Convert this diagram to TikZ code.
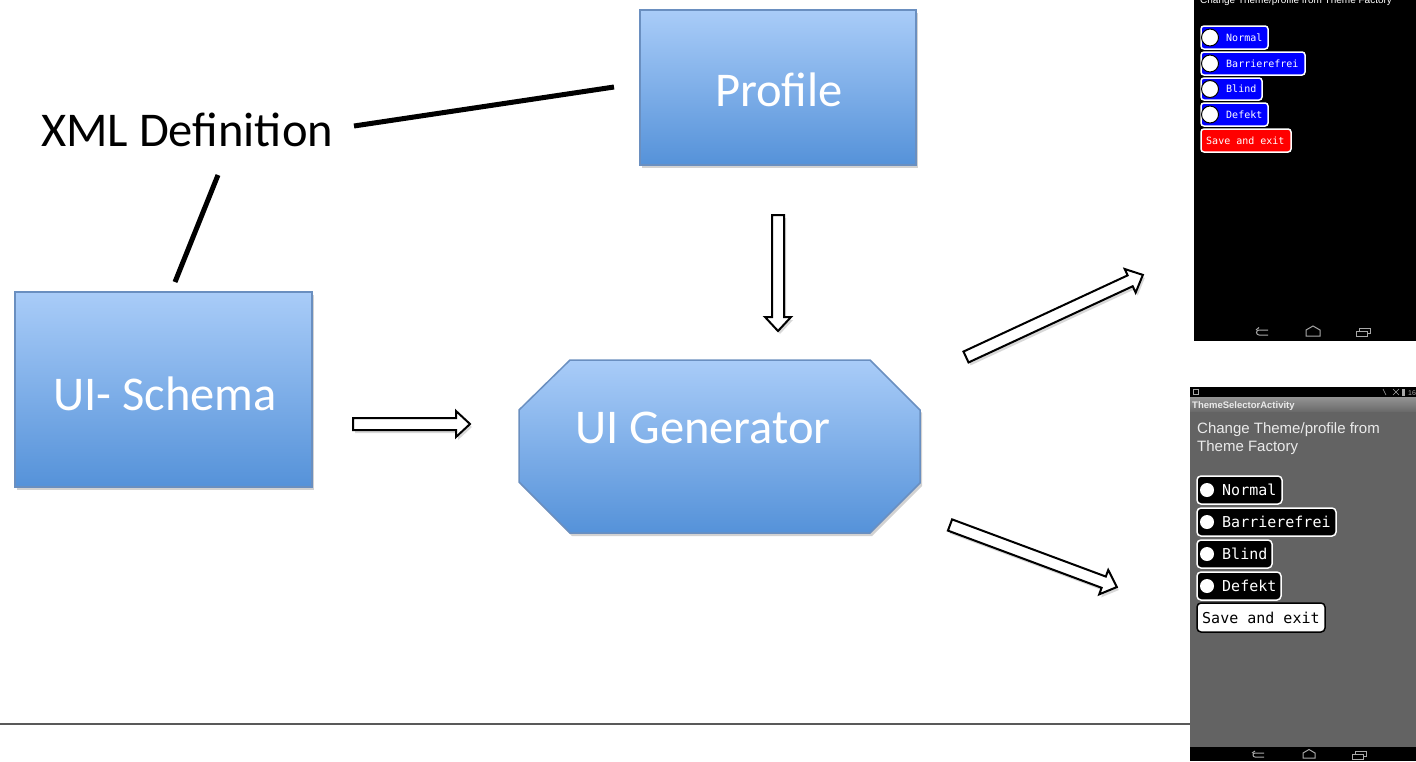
\documentclass[tikz,border=0pt]{standalone}
\usepackage{fontspec}
\setmainfont{Carlito}
\newfontfamily\andr{Liberation Sans}
\newfontfamily\monof{DejaVu Sans Mono}
\usetikzlibrary{shadows,calc}
\definecolor{boxtop}{HTML}{A9CCF8}
\definecolor{boxbot}{HTML}{5592D9}
\definecolor{boxedge}{HTML}{6A8FC0}
\definecolor{scrgray}{HTML}{636363}
\definecolor{navgray}{HTML}{A8A8A8}
\newcommand\blockarr[3]{%
  \draw[blockarrow, shift={(#1)}, rotate=#2]
    (0,-6) -- ({#3-14},-6) -- ({#3-14},-13) -- (#3,0) -- ({#3-14},13) -- ({#3-14},6) -- (0,6) -- cycle;}
\begin{document}
\begin{tikzpicture}[x=1pt,y=-1pt,
  bluebox/.style={draw=boxedge, line width=1.5pt, top color=boxtop, bottom color=boxbot,
    drop shadow={opacity=0.35, shadow xshift=2pt, shadow yshift=-3pt}},
  bigtext/.style={font=\fontsize{48.5}{58}\selectfont, inner sep=0pt, anchor=base west},
  thickline/.style={line width=5pt, black},
  blockarrow/.style={draw=black, fill=white, line width=2pt, line join=miter,
    drop shadow={opacity=0.3, shadow xshift=2pt, shadow yshift=-3pt}},
  topbtn/.style={draw=white, fill=blue, line width=1.5pt, rounded corners=3pt},
  botbtn/.style={draw=white, fill=black, line width=1.5pt, rounded corners=4pt},
  toptxt/.style={font=\monof\fontsize{10}{12}\selectfont, text=white, inner sep=0pt, anchor=west},
  bottxt/.style={font=\monof\fontsize{15}{18}\selectfont, text=white, inner sep=0pt, anchor=west},
  radio/.style={fill=white, draw=black, line width=1pt},
  nav/.style={draw=navgray, line width=1pt}
]
\useasboundingbox (0,0) rectangle (1416,761);
\fill[white] (0,0) rectangle (1416,761);

% separator line
\draw[line width=1.5pt, color=black!65] (0,724) -- (1190,724);

% main boxes
\path[bluebox] (640,10) rectangle (916,165);
\node[inner sep=0pt, minimum width=276pt, minimum height=155pt] (profile) at (778,87.5) {};
\node[bigtext, text=white] (profiletxt) at (715,106) {Profile};

\path[bluebox] (15,292) rectangle (312,487);
\node[inner sep=0pt, minimum width=297pt, minimum height=195pt] (schema) at (163.5,389.5) {};
\node[bigtext, text=white] (schematxt) at (53,410) {UI- Schema};

\path[bluebox] (570,360) -- (870,360) -- (920,410) -- (920,483) -- (870,533) -- (570,533) -- (519,482) -- (519,410) -- cycle;
\node[inner sep=0pt, minimum width=401pt, minimum height=173pt] (gen) at (719.5,446.5) {};
\node[bigtext, text=white] (gentxt) at (575,443) {UI Generator};

\node[bigtext, text=black] (xml) at (41,146) {XML Definition};

% thick lines
\coordinate (l1a) at (354,126);
\coordinate (l1b) at (614,87);
\coordinate (l2a) at (218,175);
\coordinate (l2b) at (175,282);
\draw[thickline] (l1a) -- (l1b);
\draw[thickline] (l2a) -- (l2b);

% block arrows
\coordinate (a1) at (353,424);
\coordinate (a2) at (778,215);
\coordinate (a3) at (966,357);
\coordinate (a4) at (950,525);
\blockarr{a1}{0}{117}
\blockarr{a2}{-90}{116}
\blockarr{a3}{24.9}{195}
\blockarr{a4}{-20.4}{178}

% ---------- top screenshot ----------
\fill[black] (1194,0) rectangle (1416,341);
\begin{scope}
\clip (1194,0) rectangle (1416,341);
\node[font=\andr\fontsize{10}{12}\selectfont, text=white, inner sep=0pt, anchor=base west] (tophead) at (1200,3) {Change Theme/profile from Theme Factory};
\end{scope}
\draw[topbtn] (1201,26) rectangle (1268,49);
\draw[radio] (1210,37.5) circle (8.5);
\node[toptxt] (tn1) at (1226,37.5) {Normal};
\draw[topbtn] (1201,52) rectangle (1305,75);
\draw[radio] (1210,63.5) circle (8.5);
\node[toptxt] (tn2) at (1226,63.5) {Barrierefrei};
\draw[topbtn] (1201,78) rectangle (1262,100);
\draw[radio] (1210,89) circle (8.5);
\node[toptxt] (tn3) at (1226,89) {Blind};
\draw[topbtn] (1201,103) rectangle (1268,126);
\draw[radio] (1210,114.5) circle (8.5);
\node[toptxt] (tn4) at (1226,114.5) {Defekt};
\draw[topbtn, fill=red] (1201,129) rectangle (1291,152);
\node[toptxt] (tn5) at (1206,140.5) {Save and exit};
% nav icons top
\draw[nav] (1268,330) -- (1259,330) arc[start angle=270, end angle=90, radius=2.5] -- (1268,335);
\draw[nav] (1256,330) -- (1259,327.5);
\draw[nav] (1306,336) -- (1306,330) -- (1313,326) -- (1320,330) -- (1320,336) -- cycle;
\draw[nav] (1356,331) rectangle (1367,336);
\draw[nav] (1359,331) -- (1359,328) -- (1370,328) -- (1370,333) -- (1367,333);

% ---------- bottom screenshot ----------
\fill[scrgray] (1190,387) rectangle (1416,761);
\fill[black] (1190,387) rectangle (1416,397);
\shade[top color=black!42, bottom color=black!58] (1190,397) rectangle (1416,411);
\fill[black] (1190,747) rectangle (1416,761);
\draw[navgray, line width=0.6pt] (1193,389.5) rectangle (1198,394);
\begin{scope}
\clip (1190,387) rectangle (1416,397);
\node[font=\andr\fontsize{7}{8}\selectfont, text=navgray, inner sep=0pt, anchor=base west] (stat) at (1408,395) {16};
\fill[navgray] (1402,389) rectangle (1405,395.5);
\draw[navgray, line width=0.6pt] (1393,389) -- (1399,395) (1393,395) -- (1399,389);
\draw[navgray, line width=0.6pt] (1383,389) -- (1386,395);
\end{scope}
\node[font=\andr\bfseries\fontsize{9.5}{11}\selectfont, text=white!92!black, inner sep=0pt, anchor=base west] (title) at (1192,408) {ThemeSelectorActivity};
\node[font=\andr\fontsize{15}{18}\selectfont, text=white!92!black, inner sep=0pt, anchor=north west, align=left] (bodytxt) at (1197,422) {Change Theme/profile from\\Theme Factory};

\draw[botbtn] (1197,476) rectangle (1282,504);
\fill[white] (1207,490) circle (7);
\node[bottxt] (bn1) at (1222,490) {Normal};
\draw[botbtn] (1197,508) rectangle (1336,536);
\fill[white] (1207,522) circle (7);
\node[bottxt] (bn2) at (1222,522) {Barrierefrei};
\draw[botbtn] (1197,540) rectangle (1272,568);
\fill[white] (1207,554) circle (7);
\node[bottxt] (bn3) at (1222,554) {Blind};
\draw[botbtn] (1197,572) rectangle (1281,600);
\fill[white] (1207,586) circle (7);
\node[bottxt] (bn4) at (1222,586) {Defekt};
\draw[botbtn, draw=black, fill=white] (1197,603) rectangle (1325,632);
\node[bottxt, text=black] (bn5) at (1202,617.5) {Save and exit};
% nav icons bottom
\draw[nav] (1264,753) -- (1255,753) arc[start angle=270, end angle=90, radius=2] -- (1264,757);
\draw[nav] (1252,753) -- (1255,751);
\draw[nav] (1303,758) -- (1303,753) -- (1309,749.5) -- (1315,753) -- (1315,758) -- cycle;
\draw[nav] (1352,754) rectangle (1363,759);
\draw[nav] (1355,754) -- (1355,751) -- (1366,751) -- (1366,756) -- (1363,756);
\end{tikzpicture}
\end{document}
